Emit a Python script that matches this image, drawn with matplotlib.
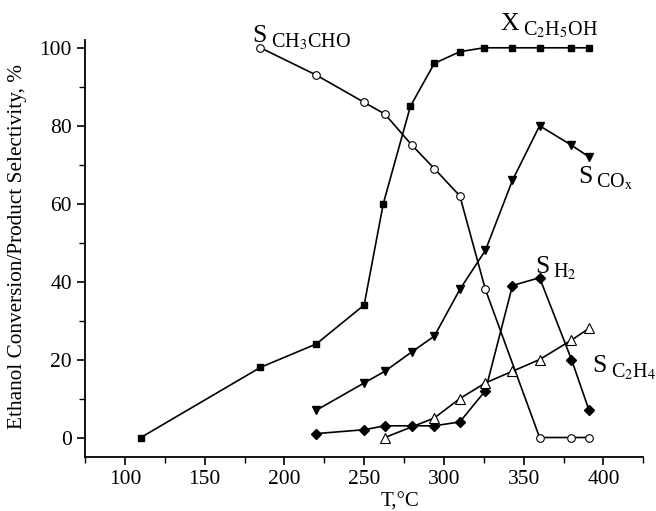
import matplotlib
matplotlib.use("Agg")
import matplotlib.pyplot as plt
from matplotlib.ticker import MultipleLocator

plt.rcParams['font.family'] = ['Liberation Serif', 'DejaVu Serif']
plt.rcParams['mathtext.fontset'] = 'stix'

# X C2H5OH conversion
t_conv = [110, 185, 220, 250, 262, 279, 294, 310, 325, 343, 360, 380, 391]
x_etoh = [0, 18, 24, 34, 60, 85, 96, 99, 100, 100, 100, 100, 100]

# S CH3CHO
t_ald = [185, 220, 250, 263, 280, 294, 310, 326, 360, 380, 391]
s_ald = [100, 93, 86, 83, 75, 69, 62, 38, 0, 0, 0]

# S COx
t_cox = [220, 250, 263, 280, 294, 310, 326, 343, 360, 380, 391]
s_cox = [7, 14, 17, 22, 26, 38, 48, 66, 80, 75, 72]

# S H2
t_h2 = [220, 250, 263, 280, 294, 310, 326, 343, 360, 380, 391]
s_h2 = [1, 2, 3, 3, 3, 4, 12, 39, 41, 20, 7]

# S C2H4
t_eth = [263, 294, 310, 326, 343, 360, 380, 391]
s_eth = [0, 5, 10, 14, 17, 20, 25, 28]

fig = plt.figure(figsize=(6.56, 5.11), dpi=100)
ax = fig.add_axes([0.1296, 0.1057, 0.851, 0.816])

lw = 1.2
ax.plot(t_conv, x_etoh, color='black', lw=lw, marker='s', ms=5, mfc='black', zorder=3)
ax.plot(t_ald, s_ald, color='black', lw=lw, marker='o', ms=5.5, mfc='white', mew=0.8, zorder=3)
ax.plot(t_cox, s_cox, color='black', lw=lw, marker='v', ms=6, mfc='black', zorder=3)
ax.plot(t_h2, s_h2, color='black', lw=lw, marker='D', ms=5, mfc='black', zorder=3)
ax.plot(t_eth, s_eth, color='black', lw=lw, marker='^', ms=7, mfc='white', mew=0.8, zorder=3)

ax.set_xlim(75, 425)
ax.set_ylim(-5, 102)
ax.xaxis.set_major_locator(MultipleLocator(50))
ax.xaxis.set_minor_locator(MultipleLocator(25))
ax.yaxis.set_major_locator(MultipleLocator(20))
ax.yaxis.set_minor_locator(MultipleLocator(10))
ax.spines['top'].set_visible(False)
ax.spines['right'].set_visible(False)
ax.spines['left'].set_linewidth(1.3)
ax.spines['bottom'].set_linewidth(1.3)
ax.tick_params(which='major', direction='out', length=6, width=1.2, labelsize=15.5)
ax.tick_params(which='minor', direction='out', length=4, width=1.0)

ax.set_xlabel('T,°C', fontsize=15)
ax.xaxis.set_label_coords(0.565, -0.085)
ax.set_ylabel('Ethanol Conversion/Product Selectivity, %', fontsize=15.3)
ax.yaxis.set_label_coords(-0.104, 0.505)

big, small = 18.5, 14.5
def label(x, y, head, tail):
    t = ax.text(x, y, head, fontsize=big, ha='left', va='baseline')
    ax.annotate(tail, xycoords=t, xy=(1, 0), xytext=(3, 0), textcoords='offset points',
                fontsize=small, ha='left', va='baseline')

label(180, 101.5, 'S', r'CH$_3$CHO')
label(335.5, 104.6, 'X', r'C$_2$H$_5$OH')
label(384, 65.4, 'S', r'CO$_\mathrm{x}$')
label(357, 42.3, 'S', r'H$_2$')
label(393, 16.7, 'S', r'C$_2$H$_4$')

for t in ax.texts:
    t.set_clip_on(False)

fig.savefig('out.png', dpi=100)
